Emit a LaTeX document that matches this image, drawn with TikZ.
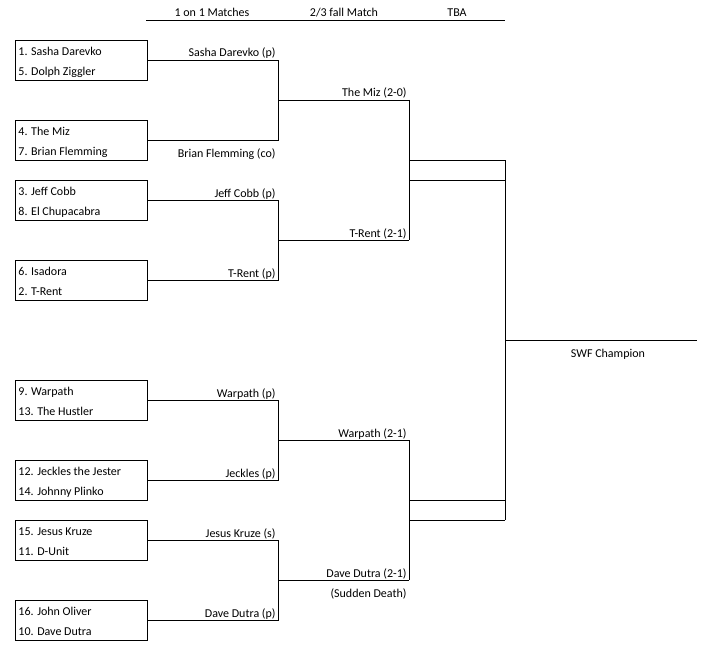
\documentclass[tikz,border=0pt]{standalone}
\usepackage{fontspec}
\setmainfont{Carlito}
\begin{document}
\begin{tikzpicture}[x=1pt,y=-1pt,line width=0.9pt,
  txt/.style={inner sep=0pt,font=\fontsize{12}{14}\selectfont},
  pbox/.style={draw,minimum width=132pt,minimum height=40pt,inner sep=0pt},
  pname/.style={txt,anchor=base west},
  lbl/.style={txt,anchor=base east},
  hdr/.style={txt,anchor=base}]
\useasboundingbox (0,0) rectangle (703,658);

% header
\coordinate (hl) at (146,20);
\coordinate (hr) at (505,20);
\draw (hl) -- (hr);
\node[hdr] (h1) at (212,17) {1 on 1 Matches};
\node[hdr] (h2) at (344,17) {2/3 fall Match};
\node[hdr] (h3) at (457,17) {TBA};

% boxes
\foreach \n/\y/\a/\b in {b1/60/1. Sasha Darevko/5. Dolph Ziggler,
  b2/140/4. The Miz/7. Brian Flemming,
  b3/200/3. Jeff Cobb/8. El Chupacabra,
  b4/280/6. Isadora/2. T-Rent,
  b5/400/9. Warpath/13. The Hustler,
  b6/480/12. Jeckles the Jester/14. Johnny Plinko,
  b7/540/15. Jesus Kruze/11. D-Unit,
  b8/620/16. John Oliver/10. Dave Dutra}{
  \node[pbox] (\n) at (81,\y) {};
  \node[pname] (\n a) at (18,\y-4.5) {\a};
  \node[pname] (\n b) at (18,\y+15.5) {\b};
}

% round 1 junctions
\foreach \j/\ya/\yb in {1/60/140,2/200/280,3/400/480,4/540/620}{
  \coordinate (r\j t) at (278,\ya);
  \coordinate (r\j b) at (278,\yb);
  \coordinate (r\j m) at (278,{(\ya+\yb)/2});
  \coordinate (r\j e) at (409,{(\ya+\yb)/2});
}
\draw (b1.east) -- (r1t) -- (r1b) -- (b2.east);
\draw (b3.east) -- (r2t) -- (r2b) -- (b4.east);
\draw (b5.east) -- (r3t) -- (r3b) -- (b6.east);
\draw (b7.east) -- (r4t) -- (r4b) -- (b8.east);
\draw (r1m) -- (r1e);
\draw (r2m) -- (r2e);
\draw (r3m) -- (r3e);
\draw (r4m) -- (r4e);

% round 1 labels
\node[lbl] (l1) at (276,57) {Sasha Darevko (p)};
\node[lbl] (l2) at (276,157) {Brian Flemming (co)};
\node[lbl] (l3) at (276,197) {Jeff Cobb (p)};
\node[lbl] (l4) at (276,277) {T-Rent (p)};
\node[lbl] (l5) at (276,397) {Warpath (p)};
\node[lbl] (l6) at (276,477) {Jeckles (p)};
\node[lbl] (l7) at (276,537) {Jesus Kruze (s)};
\node[lbl] (l8) at (276,617) {Dave Dutra (p)};

% round 2
\draw (r1e) -- (r2e);
\draw (r3e) -- (r4e);
\node[lbl] (m1) at (407,97) {The Miz (2-0)};
\node[lbl] (m2) at (407,237) {T-Rent (2-1)};
\node[lbl] (m3) at (407,437) {Warpath (2-1)};
\node[lbl] (m4) at (407,577) {Dave Dutra (2-1)};
\node[lbl] (m5) at (407,597) {(Sudden Death)};

% round 3 (TBA)
\coordinate (u1) at (409,160);
\coordinate (u2) at (409,180);
\coordinate (u3) at (409,500);
\coordinate (u4) at (409,520);
\coordinate (v1) at (505,160);
\coordinate (v2) at (505,180);
\coordinate (v3) at (505,500);
\coordinate (v4) at (505,520);
\draw (u1) -- (v1);
\draw (u2) -- (v2);
\draw (u3) -- (v3);
\draw (u4) -- (v4);
\draw (v1) -- (v4);

% final
\coordinate (f1) at (505,340);
\coordinate (f2) at (697,340);
\draw (f1) -- (f2);
\node[hdr] (champ) at (608,357) {SWF Champion};
\end{tikzpicture}
\end{document}
